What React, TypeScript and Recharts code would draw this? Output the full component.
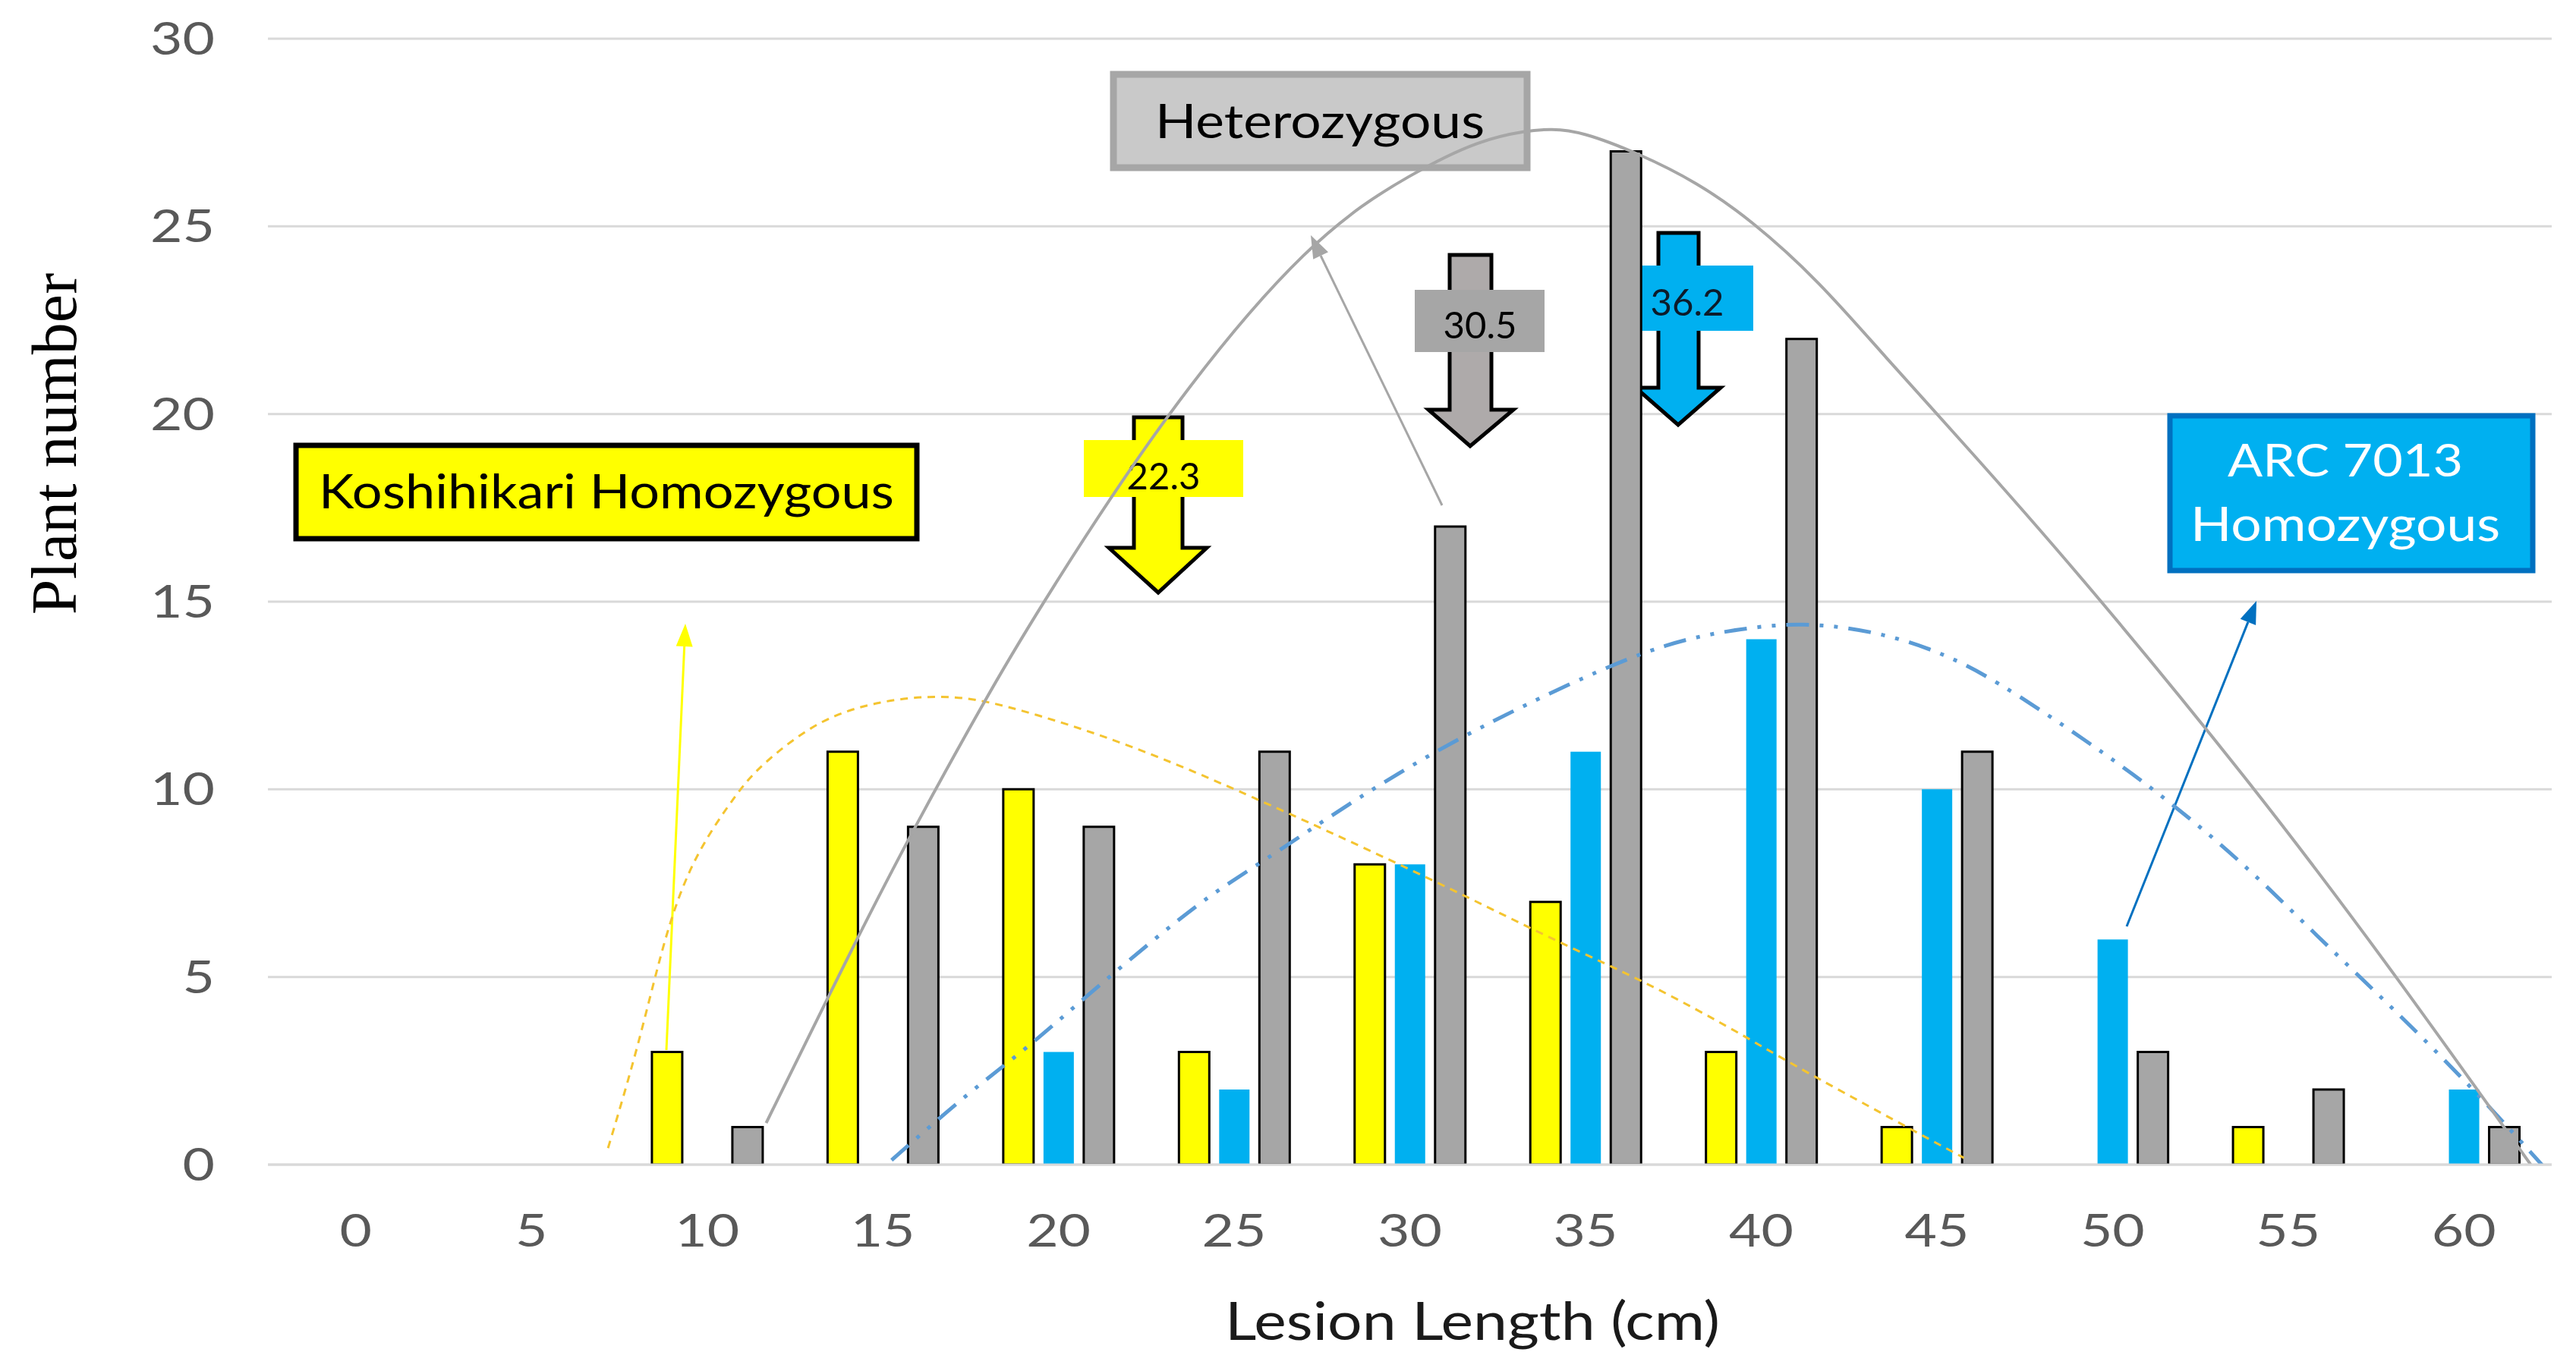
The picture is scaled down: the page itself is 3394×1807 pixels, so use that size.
import React from 'react';
import { ComposedChart, Bar, Line, XAxis, YAxis, CartesianGrid, Customized } from 'recharts';

// ---- data ----
const lesionLengths = [0, 5, 10, 15, 20, 25, 30, 35, 40, 45, 50, 55, 60];
const koshihikariCounts = [0, 0, 3, 11, 10, 3, 8, 7, 3, 1, 0, 1, 0];
const arc7013Counts = [0, 0, 0, 0, 3, 2, 8, 11, 14, 10, 6, 0, 2];
const heterozygousCounts = [0, 0, 1, 9, 9, 11, 17, 27, 22, 11, 3, 2, 1];
const yTicks = [0, 5, 10, 15, 20, 25, 30];

// trend curves
const koshiTrendX = [7.18, 8.05, 8.87, 9.7, 10.86, 11.46, 13.22, 14.98, 16.3, 17.63, 19.39, 21.16, 22.92, 25.03, 30.15, 34.29, 36.77, 39.55, 40.67, 43.97, 45.77];
const koshiTrendY = [0.44, 3.16, 6.41, 8.35, 9.91, 10.6, 11.91, 12.36, 12.49, 12.44, 11.99, 11.46, 10.84, 10.01, 7.83, 5.89, 4.85, 3.42, 2.78, 1.09, 0.18];
const arcTrendX = [15.25, 17.45, 19.04, 20.8, 22.57, 24.33, 25.86, 30.16, 34.95, 37.39, 39.17, 41.17, 43.3, 45.0, 46.6, 49.3, 51.26, 53.65, 55.83, 58.0, 60.18, 62.25, 62.5];
const arcTrendY = [0.12, 1.93, 3.05, 4.49, 5.89, 7.21, 8.09, 10.82, 13.02, 13.92, 14.25, 14.47, 14.2, 13.7, 12.96, 11.27, 9.95, 8.11, 6.08, 4.15, 2.11, -0.03, -0.3];
const hetTrendX = [11.68, 14.28, 15.87, 18.16, 19.57, 22.96, 27.18, 30.15, 31.99, 33.34, 34.01, 34.88, 36.52, 38.16, 39.7, 41.63, 43.56, 45.49, 48.9, 54.1, 58.1, 61.9, 62.4];
const hetTrendY = [1.11, 6.06, 8.94, 12.81, 15.0, 19.94, 24.73, 26.47, 27.3, 27.55, 27.6, 27.53, 26.94, 26.18, 25.18, 23.56, 21.49, 19.5, 15.92, 10.0, 5.0, 0.0, -0.65];

const meanLabels = ['22.3', '30.5', '36.2'];
const groupLabels = ['Koshihikari Homozygous', 'Heterozygous', 'ARC 7013', 'Homozygous'];
const xAxisTitle = 'Lesion Length (cm)';
const yAxisTitle = 'Plant number';

const barData = lesionLengths.map((c, i) => ({
  cat: c,
  kosh: koshihikariCounts[i],
  arc: arc7013Counts[i],
  het: heterozygousCounts[i],
}));
const toPts = (xs: number[], ys: number[]) => xs.map((x, i) => ({ x, y: ys[i] }));
const koshTrend = toPts(koshiTrendX, koshiTrendY);
const arcTrend = toPts(arcTrendX, arcTrendY);
const hetTrend = toPts(hetTrendX, hetTrendY);

const FONT = 'Lato, Carlito, Calibri, sans-serif';

function SText(p: any) {
  const { x, y, sx = 1.15, children, ...rest } = p;
  return (
    <text transform={`translate(${x},${y}) scale(${sx},1)`} x={0} y={0} fontFamily={FONT} {...rest}>
      {children}
    </text>
  );
}

function XTick(p: any) {
  return (
    <SText x={p.x} y={p.y + 108} sx={1.22} textAnchor="middle" fontSize={60} fill="#595959">
      {p.payload.value}
    </SText>
  );
}
function YTick(p: any) {
  return (
    <SText x={p.x} y={p.y + 21} sx={1.22} textAnchor="end" fontSize={60} fill="#595959">
      {p.payload.value}
    </SText>
  );
}

function BlockArrow(p: any) {
  const { sx1, sx2, top, hb, hx1, hx2, tipx, tipy, fill } = p;
  const d = `M${sx1},${top} L${sx2},${top} L${sx2},${hb} L${hx2},${hb} L${tipx},${tipy} L${hx1},${hb} L${sx1},${hb} Z`;
  return <path d={d} fill={fill} stroke="#000" strokeWidth={5} strokeLinejoin="miter" />;
}

function Callout(p: any) {
  const { x1, y1, x2, y2, color } = p;
  const ang = Math.atan2(y2 - y1, x2 - x1);
  const L = 30, Wd = 11;
  const bx = x2 - L * Math.cos(ang), by = y2 - L * Math.sin(ang);
  const px = -Math.sin(ang) * Wd, py = Math.cos(ang) * Wd;
  return (
    <g>
      <line x1={x1} y1={y1} x2={bx} y2={by} stroke={color} strokeWidth={3} />
      <polygon points={`${x2},${y2} ${bx + px},${by + py} ${bx - px},${by - py}`} fill={color} />
    </g>
  );
}

function Annotations() {
  return (
    <g>
      {/* y axis title */}
      <text x={100} y={585} transform="rotate(-90, 100, 585)" textAnchor="middle"
        fontFamily="'Liberation Serif', 'Times New Roman', serif" fontSize={84} fill="#000">{yAxisTitle}</text>
      {/* x axis title */}
      <SText x={1940} y={1766} textAnchor="middle" fontSize={70} fill="#1a1a1a">{xAxisTitle}</SText>

      {/* group boxes */}
      <rect x={390} y={587} width={818} height={123} fill="#ffff00" stroke="#000" strokeWidth={7} />
      <SText x={799} y={670} textAnchor="middle" fontSize={61} fill="#000">{groupLabels[0]}</SText>

      <rect x={1467} y={98} width={545} height={123} fill="#c9c9c9" stroke="#a6a6a6" strokeWidth={9} />
      <SText x={1739} y={182} sx={1.17} textAnchor="middle" fontSize={61} fill="#000">{groupLabels[1]}</SText>

      <rect x={2859} y={548} width={478} height={204} fill="#00b0f0" stroke="#0070c0" strokeWidth={7} />
      <SText x={3090} y={628} sx={1.12} textAnchor="middle" fontSize={61} fill="#fff">{groupLabels[2]}</SText>
      <SText x={3090} y={713} sx={1.17} textAnchor="middle" fontSize={61} fill="#fff">{groupLabels[3]}</SText>

      {/* callout arrows */}
      <Callout x1={878} y1={1384} x2={903} y2={822} color="#ffff00" />
      <Callout x1={1900} y1={666} x2={1727} y2={310} color="#a6a6a6" />
      <Callout x1={2802} y1={1221} x2={2973} y2={792} color="#0070c0" />

      {/* mean arrows */}
      <BlockArrow sx1={1494} sx2={1558} top={550} hb={722} hx1={1461} hx2={1590} tipx={1526} tipy={781} fill="#ffff00" />
      <rect x={1428} y={580} width={210} height={75} fill="#ffff00" />
      <SText x={1533} y={645} sx={1.0} textAnchor="middle" fontSize={49} fill="#000">{meanLabels[0]}</SText>

      <BlockArrow sx1={1910} sx2={1965} top={336} hb={540} hx1={1882} hx2={1994} tipx={1937} tipy={588} fill="#aeaaaa" />
      <rect x={1864} y={382} width={171} height={82} fill="#a6a6a6" />
      <SText x={1950} y={446} sx={1.0} textAnchor="middle" fontSize={49} fill="#000">{meanLabels[1]}</SText>

      <BlockArrow sx1={2185} sx2={2238} top={307} hb={511} hx1={2155} hx2={2267} tipx={2211} tipy={560} fill="#00b0f0" />
      <rect x={2137} y={350} width={173} height={86} fill="#00b0f0" />
      <SText x={2223} y={416} sx={1.0} textAnchor="middle" fontSize={49} fill="#0d1b2a">{meanLabels[2]}</SText>
    </g>
  );
}

export default function App() {
  return (
    <div style={{ position: 'absolute', left: 0, top: 0, width: 3394, height: 1807, background: '#fff' }}>
      <ComposedChart
        width={3394}
        height={1807}
        data={barData}
        margin={{ top: 51, right: 32, left: 0, bottom: 152 }}
        barSize={40}
        barGap={13}
      >
        <CartesianGrid xAxisId="cat" yAxisId="y" vertical={false} stroke="#d9d9d9" strokeWidth={3} />
        <XAxis
          xAxisId="cat"
          dataKey="cat"
          type="category"
          height={120}
          axisLine={{ stroke: '#d9d9d9', strokeWidth: 3 }}
          tickLine={false}
          tickSize={0}
          tickMargin={0}
          interval={0}
          tick={XTick}
        />
        <XAxis xAxisId="num" dataKey="x" type="number" domain={[-2.5, 62.5]} allowDataOverflow hide />
        <YAxis
          yAxisId="y"
          width={353}
          domain={[0, 30]}
          ticks={yTicks}
          allowDataOverflow
          axisLine={false}
          tickLine={false}
          tickSize={0}
          tickMargin={70}
          tick={YTick}
        />
        <Bar xAxisId="cat" yAxisId="y" dataKey="kosh" fill="#ffff00" stroke="#000" strokeWidth={3} isAnimationActive={false} />
        <Bar xAxisId="cat" yAxisId="y" dataKey="arc" fill="#00b0f0" isAnimationActive={false} />
        <Bar xAxisId="cat" yAxisId="y" dataKey="het" fill="#a6a6a6" stroke="#000" strokeWidth={3} isAnimationActive={false} />
        <Customized component={Annotations} />
        <Line xAxisId="num" yAxisId="y" data={koshTrend} dataKey="y" type="basis" stroke="#f4c430" strokeWidth={3}
          strokeDasharray="10 8" dot={false} activeDot={false} isAnimationActive={false} />
        <Line xAxisId="num" yAxisId="y" data={arcTrend} dataKey="y" type="basis" stroke="#5b9bd5" strokeWidth={5}
          strokeDasharray="30 14 5 14 5 14" dot={false} activeDot={false} isAnimationActive={false} />
        <Line xAxisId="num" yAxisId="y" data={hetTrend} dataKey="y" type="basis" stroke="#a6a6a6" strokeWidth={4}
          dot={false} activeDot={false} isAnimationActive={false} />
      </ComposedChart>
    </div>
  );
}
